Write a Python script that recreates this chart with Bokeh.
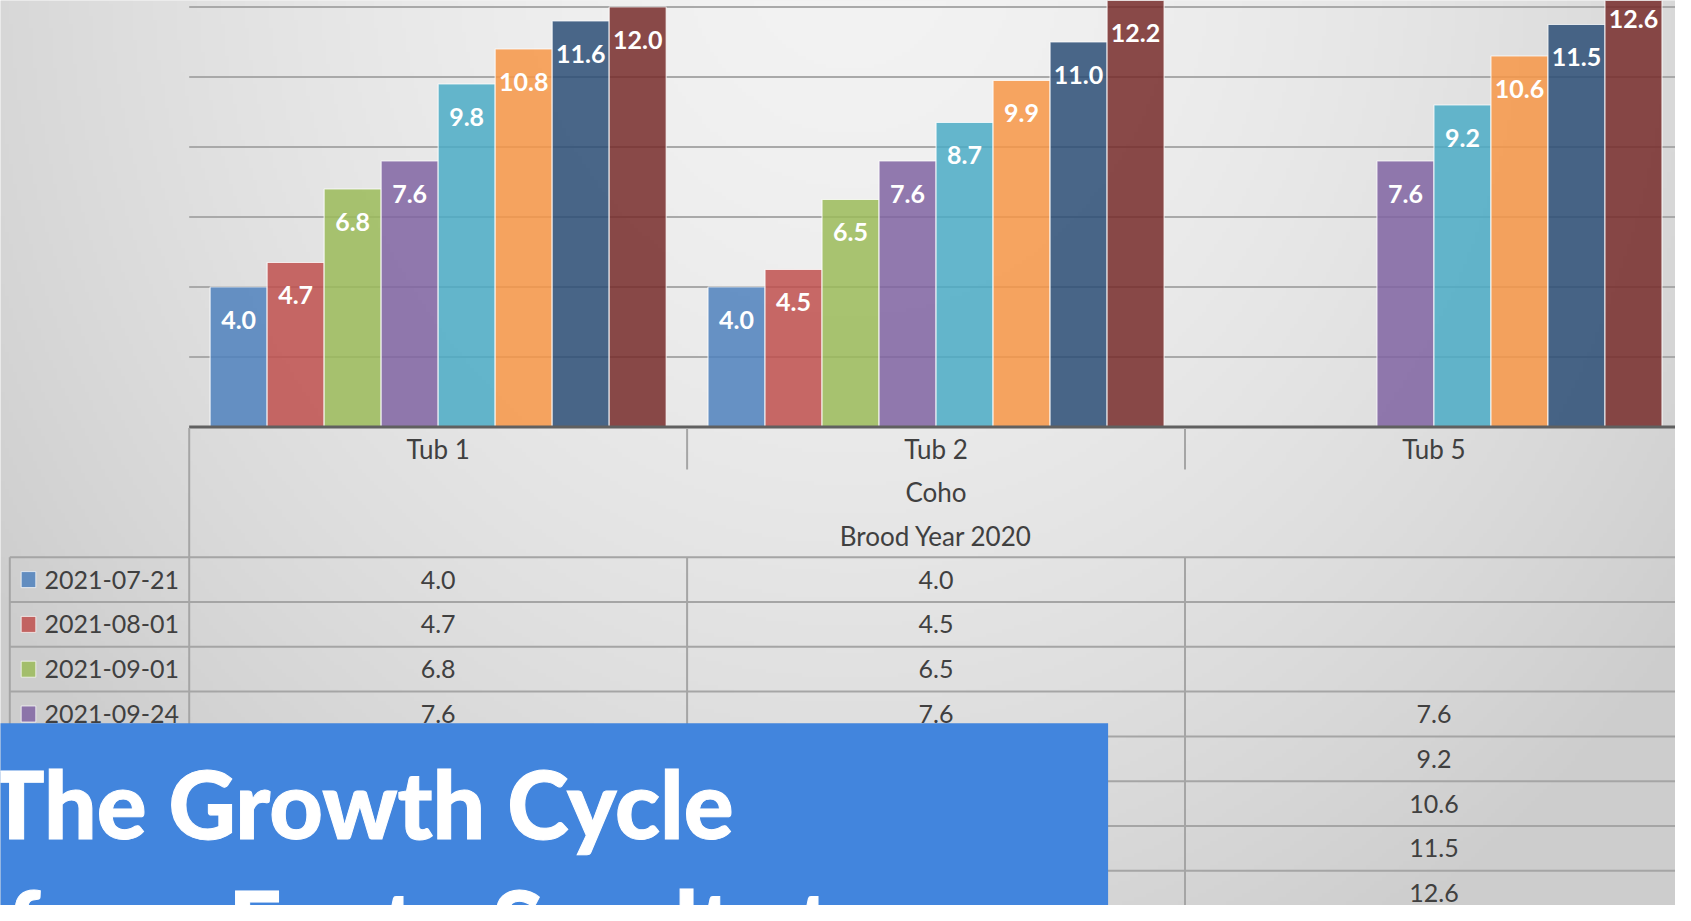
import numpy as np
from bokeh.plotting import figure
from bokeh.models import Range1d, ColumnDataSource
from bokeh.core.properties import value
from bokeh.embed import file_html
from bokeh.resources import INLINE

# ---------------- data ----------------
tubs = ["Tub 1", "Tub 2", "Tub 5"]
dates = ["2021-07-21", "2021-08-01", "2021-09-01", "2021-09-24",
         "2021-10-15", "2021-11-05", "2021-12-03", "2022-01-07"]
tub1 = [4.0, 4.7, 6.8, 7.6, 9.8, 10.8, 11.6, 12.0]
tub2 = [4.0, 4.5, 6.5, 7.6, 8.7, 9.9, 11.0, 12.2]
tub5 = [None, None, None, 7.6, 9.2, 10.6, 11.5, 12.6]
series_colors = ["#4F81BD", "#C0504D", "#9BBB59", "#8064A2",
                 "#4BACC6", "#F79646", "#2C4D75", "#772C2A"]
group_labels = ["Coho", "Brood Year 2020"]
grid_ticks = [2, 4, 6, 8, 10, 12]
title_lines = ["The Growth Cycle", "from Fry to Smolts to"]

values_by_tub = [tub1, tub2, tub5]

# ---------------- layout ----------------
W, H = 1675, 905
M = 0                      # offset of the figure in the picture
CAT_LEFT = 188.7           # picture px of the category axis start
CAT_W = 497.9              # px per category
BASE = 426.5               # picture px of value 0
PPU = 35.0                 # px per value unit


def px(x):                 # picture x -> figure px coordinate
    return x - M


def py(y):                 # picture y (top-down) -> figure px coordinate (bottom-up)
    return (H + M) - y


x0 = -(CAT_LEFT - M) / CAT_W
x1 = (W - (CAT_LEFT - M)) / CAT_W
y1 = (BASE - M) / PPU
y0 = -((H + M) - BASE) / PPU

p = figure(width=W, height=H, x_range=Range1d(x0, x1), y_range=Range1d(y0, y1),
           output_backend="svg", toolbar_location=None,
           x_axis_location=None, y_axis_location=None,
           min_border=0, outline_line_color=None,
           background_fill_color="#e4e4e4", border_fill_color="#e4e4e4")
p.grid.grid_line_color = None
p.extra_x_ranges = {"px": Range1d(0, W)}
p.extra_y_ranges = {"px": Range1d(0, H)}

# ---------------- background gradient ----------------
rows, cols = H // 4, W // 4
yy = (H + M) - (np.arange(rows) + 0.5) * H / rows
xx = M + (np.arange(cols) + 0.5) * W / cols
XX, YY = np.meshgrid(xx, yy)
d = np.sqrt((XX - 850.0) ** 2 + (0.9 * (YY + 50.0)) ** 2)
c = np.clip(243.0 - 30.0 * (d / 900.0) ** 1.6, 205, 243).astype(np.uint8)
img = np.empty((rows, cols), dtype=np.uint32)
view = img.view(dtype=np.uint8).reshape((rows, cols, 4))
view[..., 0] = c
view[..., 1] = c
view[..., 2] = c
view[..., 3] = 255
p.image_rgba(image=[img], x=0, y=0, dw=W, dh=H, x_range_name="px", y_range_name="px")

# ---------------- gridlines ----------------
ncat = len(tubs)
p.segment(x0=[0] * len(grid_ticks), x1=[ncat] * len(grid_ticks), y0=grid_ticks, y1=grid_ticks,
          line_color="#a9a9a9", line_width=2)

# ---------------- bars ----------------
nser = len(dates)
group_frac = 0.916
bar_w = group_frac / nser
bx, btop, bcol, lx, ly, ltxt = [], [], [], [], [], []
for i, vals in enumerate(values_by_tub):
    for j, v in enumerate(vals):
        if v is None:
            continue
        xc = i + 0.5 + (j - (nser - 1) / 2) * bar_w
        bx.append(xc)
        btop.append(v)
        bcol.append(series_colors[j])
        lx.append(xc)
        ly.append(v - 32.5 / PPU)
        ltxt.append(f"{v:.1f}")

bars = ColumnDataSource(dict(x=bx, top=btop, color=bcol))
p.vbar(x="x", top="top", bottom=0, width=bar_w, source=bars, fill_color="color",
       fill_alpha=0.85, line_color="white", line_alpha=0.75, line_width=1.2)

labels = ColumnDataSource(dict(x=lx, y=ly, t=ltxt))
p.text(x="x", y="y", text="t", source=labels, text_align="center", text_baseline="middle",
       text_color="white", text_font=value("Lato"), text_font_style="bold",
       text_font_size="25px")

# ---------------- category axis line ----------------
p.segment(x0=[0], x1=[ncat], y0=[0], y1=[0], line_color="#606060", line_width=3)

# ---------------- data table ----------------
TCOL = "#a5a5a5"
TXT = "#404040"
TFONT = value("Lato")
ROW0 = 556.7
ROWH = 44.8
LEFT_EDGE = 9.3
bottom = H + M + 10

# horizontal row lines
hy = [py(ROW0 + k * ROWH) for k in range(nser + 1)]
p.segment(x0=[px(LEFT_EDGE)] * len(hy), x1=[px(CAT_LEFT + ncat * CAT_W)] * len(hy),
          y0=hy, y1=hy, line_color=TCOL, line_width=2,
          x_range_name="px", y_range_name="px")
# outer verticals at category edges
p.segment(x0=[0, ncat], x1=[0, ncat], y0=[py(BASE + 1)] * 2, y1=[py(bottom)] * 2,
          line_color=TCOL, line_width=2, y_range_name="px")
# inner category separators: header segment and body
inner = list(range(1, ncat))
p.segment(x0=inner, x1=inner, y0=[py(BASE + 1)] * len(inner), y1=[py(469)] * len(inner),
          line_color=TCOL, line_width=2, y_range_name="px")
p.segment(x0=inner, x1=inner, y0=[py(ROW0)] * len(inner), y1=[py(bottom)] * len(inner),
          line_color=TCOL, line_width=2, y_range_name="px")
# left column edge
p.segment(x0=[px(LEFT_EDGE)], x1=[px(LEFT_EDGE)], y0=[py(ROW0)], y1=[py(bottom)],
          line_color=TCOL, line_width=2, x_range_name="px", y_range_name="px")

# header texts
p.text(x=[i + 0.5 for i in range(ncat)], y=[py(448)] * ncat, text=tubs,
       text_align="center", text_baseline="middle", text_color=TXT,
       text_font=TFONT, text_font_size="26px", y_range_name="px")
p.text(x=[ncat / 2] * len(group_labels), y=[py(491.5), py(535)], text=group_labels,
       text_align="center", text_baseline="middle", text_color=TXT,
       text_font=TFONT, text_font_size="26px", y_range_name="px")

# row texts
cx, cy, ct = [], [], []
for i, vals in enumerate(values_by_tub):
    for j, v in enumerate(vals):
        if v is None:
            continue
        cx.append(i + 0.5)
        cy.append(py(ROW0 + (j + 0.5) * ROWH))
        ct.append(f"{v:.1f}")
p.text(x=cx, y=cy, text=ct, text_align="center", text_baseline="middle",
       text_color=TXT, text_font=TFONT, text_font_size="25px", y_range_name="px")

row_y = [py(ROW0 + (j + 0.5) * ROWH) for j in range(nser)]
p.rect(x=[px(28)] * nser, y=row_y, width=14.6, height=16, fill_color=series_colors,
       fill_alpha=0.85, line_color="white", line_alpha=0.7, line_width=1,
       x_range_name="px", y_range_name="px")
p.text(x=[px(44)] * nser, y=row_y, text=dates, text_align="left", text_baseline="middle",
       text_color=TXT, text_font=TFONT, text_font_size="25px",
       x_range_name="px", y_range_name="px")

# ---------------- banner ----------------
p.quad(left=[-20], right=[px(1107.6)], top=[py(722.7)], bottom=[-20],
       fill_color="#4285DD", line_color=None, x_range_name="px", y_range_name="px")
p.text(x=[px(733)], y=[py(746)], text=[title_lines[0]], text_align="right",
       text_baseline="top", text_color="white", text_outline_color="white",
       text_font=value("Lato Black"), text_font_style="bold", text_font_size="93px",
       x_range_name="px", y_range_name="px")
p.text(x=[px(887)], y=[py(866)], text=[title_lines[1]], text_align="right",
       text_baseline="top", text_color="white", text_outline_color="white",
       text_font=value("Lato Black"), text_font_style="bold", text_font_size="93px",
       x_range_name="px", y_range_name="px")

open("out.html", "w").write(file_html(p, INLINE))
